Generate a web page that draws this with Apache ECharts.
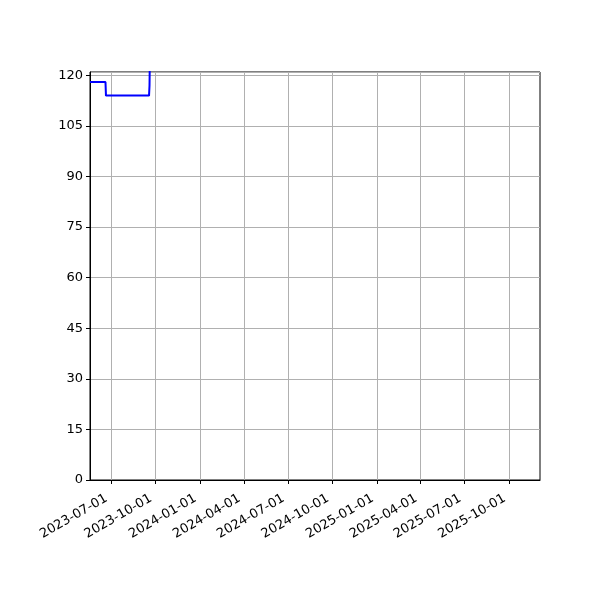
<!DOCTYPE html>
<html>
<head>
<meta charset="utf-8">
<script src="https://cdn.jsdelivr.net/npm/echarts@6/dist/echarts.min.js"></script>
<style>
html, body { margin: 0; padding: 0; background: #fff; }
#main { width: 600px; height: 600px; }
</style>
</head>
<body>
<div id="main"></div>
<script>
// step line, readings
var dates = ['2023-05-19', '2023-06-20', '2023-06-21', '2023-09-18', '2023-09-19', '2023-09-21', '2025-12-04'];
var values = [118, 118, 114, 114, 117, 140, 140];
var xTicks = ['2023-07-01', '2023-10-01', '2024-01-01', '2024-04-01', '2024-07-01', '2024-10-01',
	'2025-01-01', '2025-04-01', '2025-07-01', '2025-10-01'];
var xMin = '2023-05-19';
var xMax = '2025-12-04';

var dom = document.getElementById('main');
var myChart = echarts.init(dom);

function toTime(d) { return +new Date(d + 'T00:00:00'); }
var tickTimes = xTicks.map(toTime);
var seriesData = dates.map(function(d, i) { return [toTime(d), values[i]]; });

function pad(n) { return n < 10 ? '0' + n : '' + n; }

option = {
	animation: false,
	grid: {
		left: 90,
		right: 60,
		top: 72,
		bottom: 120,
		show: true,
		borderColor: '#000',
		borderWidth: 1
	},
	xAxis: {
		type: 'value',
		min: toTime(xMin),
		max: toTime(xMax),
		axisLine: { show: true, onZero: false, lineStyle: { color: '#000', width: 1 } },
		axisTick: {
			show: true,
			length: 4,
			customValues: tickTimes,
			lineStyle: { color: '#000' }
		},
		axisLabel: {
			customValues: tickTimes,
			rotate: 30,
			margin: 15,
			padding: [0, 5, 0, 0],
			color: '#000',
			fontSize: 13,
			fontFamily: 'DejaVu Sans',
			formatter: function(v) {
				var d = new Date(v);
				return d.getFullYear() + '-' + pad(d.getMonth() + 1) + '-' + pad(d.getDate());
			}
		},
		splitLine: { show: true, lineStyle: { color: '#b0b0b0', width: 1 } }
	},
	yAxis: {
		type: 'value',
		min: 0,
		max: 121,
		interval: 15,
		axisLine: { show: true, lineStyle: { color: '#000', width: 1 } },
		axisTick: { show: true, length: 4, lineStyle: { color: '#000' } },
		axisLabel: {
			margin: 7,
			color: '#000',
			fontSize: 13,
			fontFamily: 'DejaVu Sans',
			showMaxLabel: false
		},
		splitLine: { show: true, lineStyle: { color: '#b0b0b0', width: 1 } }
	},
	series: [{
		type: 'line',
		data: seriesData,
		showSymbol: false,
		clip: true,
		lineStyle: { color: '#0000ff', width: 2 },
		itemStyle: { color: '#0000ff' }
	}]
};

if (option && typeof option === 'object') {
	myChart.setOption(option, true);
}
</script>
</body>
</html>
